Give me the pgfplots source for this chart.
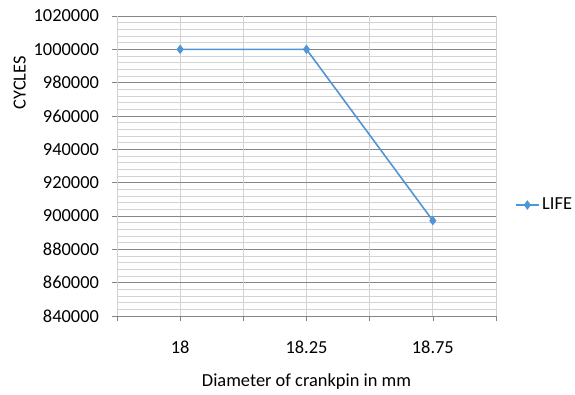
\documentclass[border=0pt]{standalone}
\usepackage{fontspec}
\setmainfont{Carlito}
\usepackage{pgfplots}
\pgfplotsset{compat=1.18}
\definecolor{lifeblue}{RGB}{80,150,215}
\definecolor{majgrid}{RGB}{134,134,134}
\definecolor{mingrid}{RGB}{210,210,210}
\begin{document}
\fontsize{13.8}{16}\selectfont
\begin{tikzpicture}
\path[use as bounding box] (-87.75pt,-58.5pt) rectangle (343.5pt,237pt);
\begin{axis}[
  scale only axis,
  width=284.25pt, height=225pt,
  xmin=-0.5, xmax=2.5,
  ymin=840000, ymax=1020000,
  xtick={0,1,2},
  xticklabels={18,18.25,18.75},
  x tick label style={yshift=-10pt},
  ytick={840000,860000,...,1020000},
  minor y tick num=4,
  scaled ticks=false,
  /pgf/number format/fixed,
  /pgf/number format/1000 sep={},
  /pgf/number format/assume math mode=true,
  tick align=outside,
  major tick length=3.75pt,
  minor tick length=0pt,
  x axis line style={draw=none},
  axis line style={draw=majgrid},
  every tick/.style={draw=majgrid},
  tick pos=left,
  xmajorgrids, ymajorgrids, yminorgrids,
  major grid style={draw=majgrid, line width=0.6pt},
  minor grid style={draw=mingrid, line width=0.6pt},
  x grid style={draw=mingrid, line width=0.6pt},
  extra x ticks={-0.5,0.5,1.5,2.5},
  extra x tick labels={},
  extra x tick style={major tick length=3.75pt, xmajorgrids=true, grid style={draw=majgrid, line width=0.6pt}},
  yticklabel style={xshift=-5pt},
  ylabel={CYCLES},
  ylabel style={at={(axis description cs:-0.257,0.778)}, anchor=center},
  xlabel={Diameter of crankpin in mm},
  xlabel style={at={(axis description cs:0.5,0)}, anchor=center, yshift=-49.5pt},
  label style={font=\fontsize{13.8}{16}\selectfont},
  tick label style={font=\fontsize{13.8}{16}\selectfont},
  legend style={draw=none, fill=none, at={(axis description cs:1.05,0.37)}, anchor=west, font=\fontsize{13.8}{16}\selectfont, inner sep=0pt},
  legend cell align=left,
]
\addplot[color=lifeblue, line width=1.2pt, mark=diamond*, mark size=2.6pt, mark options={fill=lifeblue}] coordinates {
  (0,1000000) (1,1000000) (2,897200)
};
\addlegendentry{LIFE}
\end{axis}
\end{tikzpicture}
\end{document}
